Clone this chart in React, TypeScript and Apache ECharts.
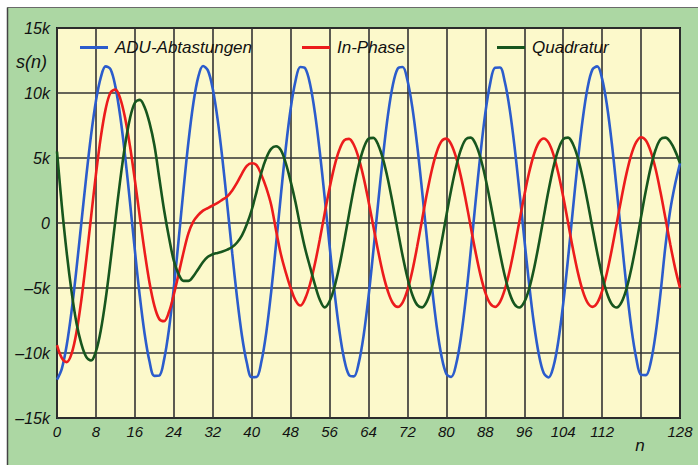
import React, { useEffect, useRef } from "react";
import * as echarts from "echarts";

// Sample index n = 0..128 (position in the array)
const seriesNames = ["ADU-Abtastungen", "In-Phase", "Quadratur"];

// values in k (thousands)
const adu = [
  -12.05, -11.2, -9.39, -6.76, -3.53, 0, 3.53, 6.76, 9.39, 11.2,
  12.05, 11.83, 10.49, 8.19, 5.12, 1.58, -2.11, -5.59, -8.52, -10.64,
  -11.76, -11.74, -10.51, -8.18, -4.98, -1.26, 2.61, 6.22, 9.17, 11.2,
  12.08, 11.74, 10.33, 7.97, 4.88, 1.34, -2.32, -5.76, -8.67, -10.75,
  -11.86, -11.85, -10.66, -8.41, -5.31, -1.66, 2.15, 5.75, 8.77, 10.92,
  12.0, 11.9, 10.67, 8.45, 5.45, 1.95, -1.75, -5.25, -8.25, -10.47,
  -11.7, -11.8, -10.76, -8.65, -5.68, -2.14, 1.6, 5.21, 8.32, 10.61,
  11.88, 12.0, 10.98, 8.91, 5.99, 2.51, -1.21, -4.8, -7.92, -10.24,
  -11.61, -11.84, -10.87, -8.78, -5.79, -2.19, 1.64, 5.31, 8.45, 10.74,
  11.94, 11.96, 10.86, 8.78, 5.9, 2.46, -1.18, -4.7, -7.77, -10.11,
  -11.54, -11.88, -11.04, -9.09, -6.22, -2.73, 1.05, 4.74, 7.95, 10.38,
  11.8, 12.05, 11.09, 9.04, 6.1, 2.56, -1.23, -4.89, -8.04, -10.38,
  -11.68, -11.7, -10.7, -8.5, -5.4, -1.8, 1.0, 3.0, 4.6,
];

const inPhase = [
  -9.4, -10.4, -10.7, -10.05, -8.41, -5.92, -2.87, 0.47, 3.74, 6.61,
  8.78, 10.04, 10.26, 9.57, 8.06, 5.9, 3.3, 0.51, -2.2, -4.57,
  -6.35, -7.38, -7.55, -6.85, -5.5, -3.9, -2.25, -0.8, 0.1, 0.6,
  0.95, 1.15, 1.35, 1.55, 1.8, 2.05, 2.5, 3.1, 3.8, 4.4,
  4.6, 4.45, 3.7, 2.7, 1.4, -0.55, -2.4, -3.8, -5.0, -5.95,
  -6.35, -5.8, -4.68, -3.12, -1.25, 0.75, 2.68, 4.36, 5.61, 6.35,
  6.47, 6.0, 4.97, 3.49, 1.68, -0.27, -2.2, -3.93, -5.27, -6.15,
  -6.45, -6.12, -5.16, -3.69, -1.81, 0.23, 2.26, 4.06, 5.44, 6.29,
  6.49, 6.05, 5.04, 3.55, 1.72, -0.28, -2.24, -3.99, -5.35, -6.2,
  -6.45, -6.08, -5.12, -3.67, -1.86, 0.13, 2.1, 3.88, 5.29, 6.19,
  6.5, 6.18, 5.26, 3.83, 2.03, 0.03, -1.98, -3.78, -5.21, -6.13,
  -6.45, -6.14, -5.23, -3.81, -2.02, -0.03, 1.97, 3.8, 5.26, 6.22,
  6.6, 6.35, 5.49, 4.13, 2.36, 0.38, -1.63, -3.47, -4.99,
];

const quadratur = [
  5.5, 1.3, -2.3, -5.3, -7.7, -9.3, -10.3, -10.58, -9.88, -8.25,
  -5.85, -2.92, 0.24, 3.34, 6.02, 8.06, 9.25, 9.47, 8.91, 7.72,
  6.0, 3.5, 1.0, -1.1, -2.9, -3.95, -4.45, -4.45, -4.1, -3.55,
  -3.0, -2.6, -2.4, -2.3, -2.2, -2.05, -1.85, -1.5, -0.95, -0.1,
  1.0, 2.4, 3.9, 5.0, 5.7, 5.9, 5.6, 4.6, 3.2, 1.6,
  -0.3, -2.0, -3.4, -4.75, -5.9, -6.49, -6.02, -4.93, -3.34, -1.41,
  0.68, 2.7, 4.45, 5.75, 6.48, 6.55, 6.0, 4.89, 3.33, 1.45,
  -0.55, -2.5, -4.21, -5.52, -6.3, -6.49, -6.03, -4.97, -3.4, -1.5,
  0.57, 2.58, 4.33, 5.66, 6.44, 6.57, 6.08, 5.02, 3.5, 1.65,
  -0.36, -2.31, -4.06, -5.41, -6.25, -6.5, -6.09, -5.07, -3.52, -1.61,
  0.47, 2.51, 4.3, 5.65, 6.44, 6.57, 6.08, 5.02, 3.5, 1.65,
  -0.36, -2.31, -4.06, -5.41, -6.25, -6.5, -6.09, -5.07, -3.52, -1.61,
  0.47, 2.51, 4.3, 5.65, 6.44, 6.57, 6.25, 5.55, 4.6,
];

const hiddenXTick = 120;

const FONT = "'Liberation Sans', Arial, sans-serif";
const colors = ["#2b5ccc", "#ec1c1c", "#17561e"];

export default function App() {
  const ref = useRef<HTMLDivElement>(null);
  useEffect(() => {
    if (!ref.current) return;
    const chart = echarts.init(ref.current, null, { renderer: "svg" });
    const toPairs = (arr: number[]) => arr.map((v, i) => [i, v]);
    const values = [adu, inPhase, quadratur];
    const legendLefts = [80, 302, 497];
    chart.setOption({
      animation: false,
      backgroundColor: "#acd7a3",
      graphic: [
        { type: "rect", shape: { x: 0, y: 0, width: 698, height: 7 }, style: { fill: "#ffffff" } },
        { type: "rect", shape: { x: 0, y: 0, width: 7, height: 465 }, style: { fill: "#ffffff" } },
        { type: "line", shape: { x1: 7.5, y1: 7.5, x2: 698, y2: 7.5 }, style: { stroke: "#6a6a6a", lineWidth: 1 } },
        { type: "line", shape: { x1: 7.5, y1: 7.5, x2: 7.5, y2: 465 }, style: { stroke: "#444", lineWidth: 1.5 } },
        {
          type: "text",
          left: 16,
          top: 53,
          style: { text: "s(n)", fontSize: 18, fontStyle: "italic", fontFamily: FONT, fill: "#111" },
        },
        {
          type: "text",
          x: 640,
          y: 445,
          style: {
            text: "n",
            fontSize: 17,
            fontStyle: "italic",
            fontFamily: FONT,
            fill: "#111",
            align: "center",
            verticalAlign: "middle",
          },
        },
      ],
      legend: seriesNames.map((name, i) => ({
        data: [name],
        left: legendLefts[i],
        top: 39,
        padding: 0,
        icon: "rect",
        itemWidth: 28,
        itemHeight: 3,
        selectedMode: false,
        textStyle: { fontSize: 17, fontStyle: "italic", fontFamily: FONT, color: "#111", padding: [0, 0, 0, 2] },
      })),
      grid: {
        left: 57,
        top: 28,
        width: 623,
        height: 390,
        show: true,
        backgroundColor: "#fcf9cb",
        borderColor: "#1a1a1a",
        borderWidth: 2,
      },
      xAxis: {
        type: "value",
        min: 0,
        max: 128,
        interval: 8,
        axisLine: { show: false },
        axisTick: { show: false },
        splitLine: { show: true, lineStyle: { color: "#333", width: 1.6 } },
        axisLabel: {
          margin: 6,
          fontSize: 15,
          fontStyle: "italic",
          fontFamily: FONT,
          color: "#111",
          formatter: (v: number) => (v === hiddenXTick ? "" : String(v)),
        },
      },
      yAxis: {
        type: "value",
        min: -15,
        max: 15,
        interval: 5,
        axisLine: { show: false },
        axisTick: { show: false },
        splitLine: { show: true, lineStyle: { color: "#333", width: 1.6 } },
        axisLabel: {
          margin: 7,
          fontSize: 16,
          fontStyle: "italic",
          fontFamily: FONT,
          color: "#111",
          formatter: (v: number) => (v === 0 ? "0" : v < 0 ? "–" + -v + "k" : v + "k"),
        },
      },
      series: seriesNames.map((name, i) => ({
        name,
        type: "line",
        data: toPairs(values[i]),
        showSymbol: false,
        smooth: 0.35,
        lineStyle: { color: colors[i], width: 2.6 },
        itemStyle: { color: colors[i] },
        z: 2 + i,
      })),
    });
    return () => chart.dispose();
  }, []);
  return (
    <div
      ref={ref}
      style={{ position: "absolute", left: 0, top: 0, width: 698, height: 465 }}
    />
  );
}
